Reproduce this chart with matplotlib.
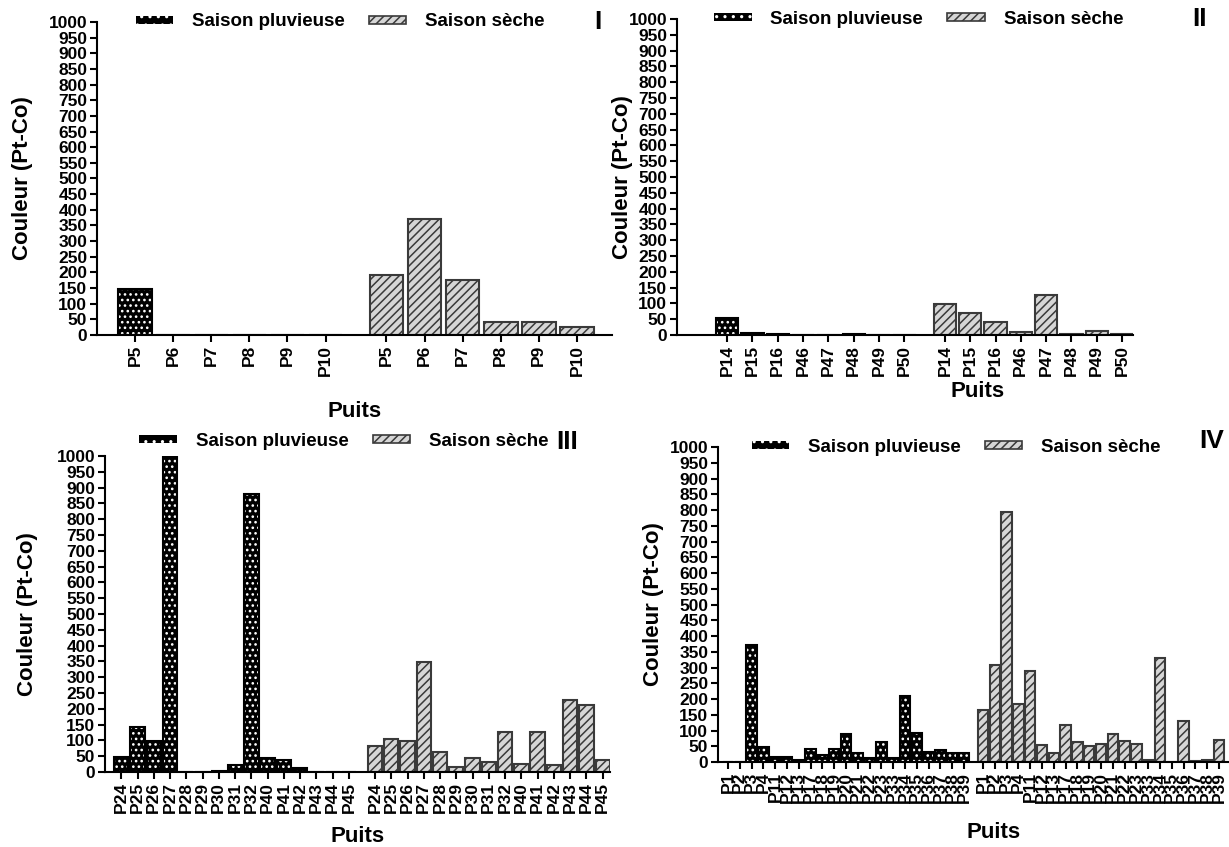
import numpy as np
import matplotlib
matplotlib.use('Agg')
import matplotlib.pyplot as plt
from matplotlib.patches import Patch

plt.rcParams['font.family'] = ['Liberation Sans', 'DejaVu Sans']
plt.rcParams['font.weight'] = 'bold'
plt.rcParams['axes.labelweight'] = 'bold'
plt.rcParams['hatch.linewidth'] = 1.1

# data (couleur, Pt-Co)
wells_1 = ['P5', 'P6', 'P7', 'P8', 'P9', 'P10']
rain_1 = [148, 0, 0, 0, 0, 0]
dry_1 = [191, 370, 175, 41, 41, 27]

wells_2 = ['P14', 'P15', 'P16', 'P46', 'P47', 'P48', 'P49', 'P50']
rain_2 = [53, 7, 4, 0, 0, 4, 0, 0]
dry_2 = [99, 70, 40, 10, 128, 4, 14, 4]

wells_3 = ['P24', 'P25', 'P26', 'P27', 'P28', 'P29', 'P30', 'P31', 'P32',
           'P40', 'P41', 'P42', 'P43', 'P44', 'P45']
rain_3 = [48, 143, 99, 1000, 0, 0, 4, 23, 880, 44, 39, 14, 0, 0, 0]
dry_3 = [81, 106, 98, 348, 63, 16, 44, 33, 127, 25, 127, 21, 228, 211, 38]

wells_4 = ['P1', 'P2', 'P3', 'P4', 'P11', 'P12', 'P13', 'P17', 'P18', 'P19',
           'P20', 'P21', 'P22', 'P23', 'P33', 'P34', 'P35', 'P36', 'P37', 'P38', 'P39']
rain_4 = [0, 0, 370, 48, 17, 17, 6, 42, 23, 42, 89, 29, 14, 64, 14, 209, 93, 33, 38, 29, 29]
dry_4 = [166, 309, 795, 184, 290, 54, 28, 116, 63, 51, 57, 90, 67, 57, 6, 329, 0, 131, 3, 6, 70]

labels = ['I', 'II', 'III', 'IV']

W, H = 1229, 847
fig = plt.figure(figsize=(W / 100, H / 100), dpi=100)


# pixel box -> figure fraction
def px_axes(x0, y_top, x1, y_bot):
    return fig.add_axes([x0 / W, 1 - y_bot / H, (x1 - x0) / W, (y_bot - y_top) / H])


RAIN_FACE = 'black'
DRY_FACE = '#d6d6d6'
DRY_EDGE = '#3a3a3a'


def draw_panel(ax, wells, rain, dry, left_pad, right_pad, leg_x, leg_y, num, num_x, num_y,
               xlab_x, xlab_y, ylab_x):
    n = len(wells)
    x_rain = np.arange(n)
    x_dry = np.arange(n) + n + 0.6
    w = 0.88

    # rainy season: black with white dots, then black outline
    ax.bar(x_rain, rain, w, color=RAIN_FACE, edgecolor='white', hatch='...', linewidth=0)
    ax.bar(x_rain, rain, w, fill=False, edgecolor='black', linewidth=1.5)
    # dry season: light grey with diagonal hatching
    ax.bar(x_dry, dry, w, color=DRY_FACE, edgecolor=DRY_EDGE, hatch='////', linewidth=1.5)

    ax.set_xticks(np.concatenate([x_rain, x_dry]))
    ax.set_xticklabels(wells + wells, rotation=90, fontsize=12.5, fontweight='bold')
    ax.set_xlim(-left_pad, x_dry[-1] + right_pad)
    ax.set_ylim(0, 1000)
    ax.set_yticks(np.arange(0, 1001, 50))
    ax.set_yticklabels([str(v) for v in range(0, 1001, 50)], fontsize=12.5, fontweight='bold')
    ax.tick_params(axis='both', direction='out', length=5, width=1.5, pad=2)
    for s in ['top', 'right']:
        ax.spines[s].set_visible(False)
    for s in ['left', 'bottom']:
        ax.spines[s].set_linewidth(1.5)

    ax.set_ylabel('Couleur (Pt-Co)', fontsize=16, fontweight='bold')
    ax.yaxis.set_label_coords(ylab_x, 0.5)
    ax.set_xlabel('Puits', fontsize=16, fontweight='bold')
    ax.xaxis.set_label_coords(xlab_x, xlab_y)

    handles = [Patch(facecolor=RAIN_FACE, edgecolor='white', hatch='..', linewidth=0),
               Patch(facecolor=DRY_FACE, edgecolor=DRY_EDGE, hatch='////', linewidth=1.2)]
    ax.legend(handles, ['Saison pluvieuse', 'Saison sèche'], loc='center',
              bbox_to_anchor=(leg_x, leg_y), ncol=2, frameon=False,
              prop={'size': 13.5, 'weight': 'bold'}, handlelength=2.0,
              handleheight=0.3, handletextpad=1.0, columnspacing=1.3)
    ax.text(num_x, num_y, num, transform=ax.transAxes, fontsize=19, fontweight='bold',
            ha='center', va='center')


ax1 = px_axes(97, 22, 612, 335)
draw_panel(ax1, wells_1, rain_1, dry_1, 1.0, 0.92, 0.472, 1.0, labels[0], 0.973, 1.0,
           0.5, -0.21, -0.125)

ax2 = px_axes(677, 19, 1133, 335)
draw_panel(ax2, wells_2, rain_2, dry_2, 1.98, 0.43, 0.53, 1.0, labels[1], 1.145, 1.0,
           0.66, -0.145, -0.097)

ax3 = px_axes(105, 456, 610, 772)
draw_panel(ax3, wells_3, rain_3, dry_3, 1.0, 0.45, 0.473, 1.047, labels[2], 0.915, 1.045,
           0.5, -0.17, -0.132)

ax4 = px_axes(718, 447, 1229, 762)
draw_panel(ax4, wells_4, rain_4, dry_4, 0.85, 0.85, 0.466, 1.0, labels[3], 0.967, 1.02,
           0.54, -0.19, -0.105)

fig.savefig('out.png', dpi=100)
